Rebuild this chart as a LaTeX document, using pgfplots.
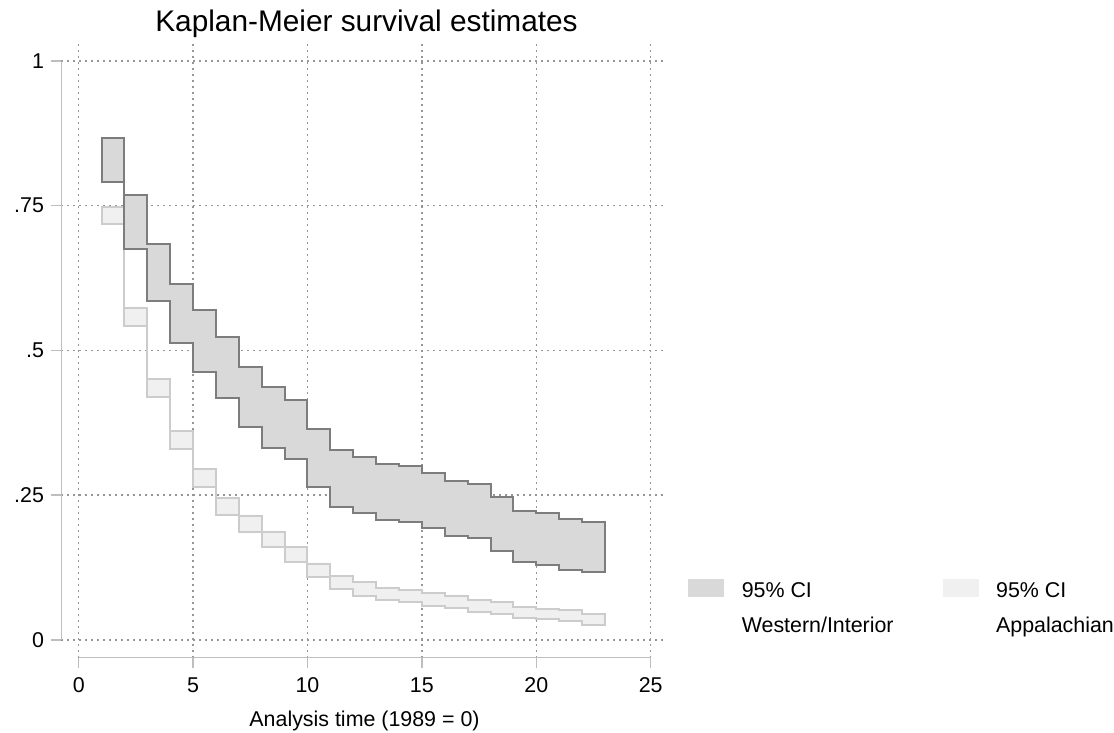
\documentclass[border=0pt]{standalone}
\usepackage{fontspec}
\setmainfont{Liberation Sans}
\usepackage{pgfplots}
\pgfplotsset{compat=1.18}
\usepgfplotslibrary{fillbetween}
\definecolor{dkfill}{RGB}{217,217,217}
\definecolor{dkline}{RGB}{125,125,125}
\definecolor{ltfill}{RGB}{240,240,240}
\definecolor{ltline}{RGB}{204,204,204}
\definecolor{axline}{RGB}{190,190,190}
\definecolor{gridc}{RGB}{150,150,150}

\begin{document}
\begin{tikzpicture}
\begin{axis}[
  at={(30.5bp,37.65bp)}, anchor=south west,
  scale only axis, width=301bp, height=307.5bp,
  xmin=-0.774, xmax=25.54, ymin=-0.0306, ymax=1.0316,
  axis line style={draw=none},
  xtick={0,5,10,15,20,25},
  xticklabels={0,5,10,15,20,25},
  ytick={0,0.25,0.5,0.75,1},
  yticklabels={0,.25,.5,.75,1},
  xtick pos=bottom, ytick pos=left,
  tick align=outside, major tick length=5bp,
  tick style={axline, line width=0.75bp},
  grid=major,
  grid style={gridc, line width=0.75bp, dash pattern=on 0.75bp off 2.25bp},
  tick label style={font=\fontsize{10.7bp}{12bp}\selectfont},
  xticklabel style={yshift=-1.5bp},
  /pgf/number format/assume math mode=true,
  title={Kaplan-Meier survival estimates},
  title style={font=\fontsize{14.9bp}{17bp}\selectfont, anchor=base, at={(axis description cs:0.5075,1)}, yshift=-0.15bp},
  xlabel={Analysis time (1989 = 0)},
  xlabel style={font=\fontsize{10.7bp}{12bp}\selectfont, anchor=base, at={(axis description cs:0.5042,0)}, yshift=-34.15bp},
  legend columns=2,
  legend cell align=left,
  legend style={draw=none, fill=none, inner sep=0pt, outer sep=0pt,
    at={(axis description cs:1.042,0.1277)}, anchor=north west,
    font=\fontsize{10.7bp}{12bp}\selectfont,
    nodes={inner sep=0pt, text height=8bp, text depth=2.5bp},
    row sep=6.65bp,
    /tikz/every odd column/.append style={column sep=8.85bp},
    /tikz/every even column/.append style={column sep=24.5bp}},
]
\addlegendimage{legend image code/.code={\fill[dkfill] (0bp,-2.15bp) rectangle (17.5bp,6.35bp);}}
\addlegendimage{legend image code/.code={\fill[ltfill] (0bp,-2.15bp) rectangle (17.5bp,6.35bp);}}
\addlegendimage{empty legend}
\addlegendimage{empty legend}
\legend{95\% CI, 95\% CI, Western/Interior, Appalachian}

% Appalachian CI band
\addplot[const plot, draw=none, forget plot, name path=AU] coordinates {
 (1,0.7476) (2,0.5737) (3,0.451) (4,0.3617) (5,0.2955) (6,0.2454) (7,0.2148) (8,0.1866)
 (9,0.160) (10,0.1318) (11,0.111) (12,0.1008) (13,0.0904) (14,0.087) (15,0.0812) (16,0.0766)
 (17,0.0685) (18,0.0662) (19,0.057) (20,0.0541) (21,0.0518) (22,0.0449) (23,0.0449)};
\addplot[const plot, draw=none, forget plot, name path=AL] coordinates {
 (1,0.718) (2,0.542) (3,0.419) (4,0.330) (5,0.265) (6,0.2165) (7,0.187) (8,0.160)
 (9,0.134) (10,0.108) (11,0.0878) (12,0.0766) (13,0.0685) (14,0.065) (15,0.058) (16,0.0547)
 (17,0.0478) (18,0.0455) (19,0.0374) (20,0.0356) (21,0.0328) (22,0.0264) (23,0.0264)};
\addplot[fill=ltfill, draw=ltline, line width=1bp, forget plot] fill between[of=AU and AL];

% Western/Interior CI band
\addplot[const plot, draw=none, forget plot, name path=WU] coordinates {
 (1,0.867) (2,0.768) (3,0.684) (4,0.615) (5,0.570) (6,0.523) (7,0.472) (8,0.4365)
 (9,0.415) (10,0.3646) (11,0.3277) (12,0.3162) (13,0.3041) (14,0.300) (15,0.2886) (16,0.2753)
 (17,0.270) (18,0.2476) (19,0.2234) (20,0.2194) (21,0.2096) (22,0.2039) (23,0.2039)};
\addplot[const plot, draw=none, forget plot, name path=WL] coordinates {
 (1,0.791) (2,0.675) (3,0.585) (4,0.5125) (5,0.4636) (6,0.4175) (7,0.3674) (8,0.3318)
 (9,0.3133) (10,0.2637) (11,0.229) (12,0.2188) (13,0.2079) (14,0.2044) (15,0.1929) (16,0.1802)
 (17,0.1756) (18,0.1543) (19,0.1341) (20,0.1296) (21,0.121) (22,0.1168) (23,0.1168)};
\addplot[fill=dkfill, draw=dkline, line width=1bp, forget plot] fill between[of=WU and WL];

% Stata-style axis lines
\draw[axline, line width=0.75bp] (axis cs:-0.774,0) -- (axis cs:-0.774,1);
\draw[axline, line width=0.75bp] (axis cs:0,-0.0306) -- (axis cs:25,-0.0306);
\end{axis}
\pgfresetboundingbox
\path[use as bounding box] (0,0) rectangle (557bp,366.5bp);
\end{tikzpicture}
\end{document}
